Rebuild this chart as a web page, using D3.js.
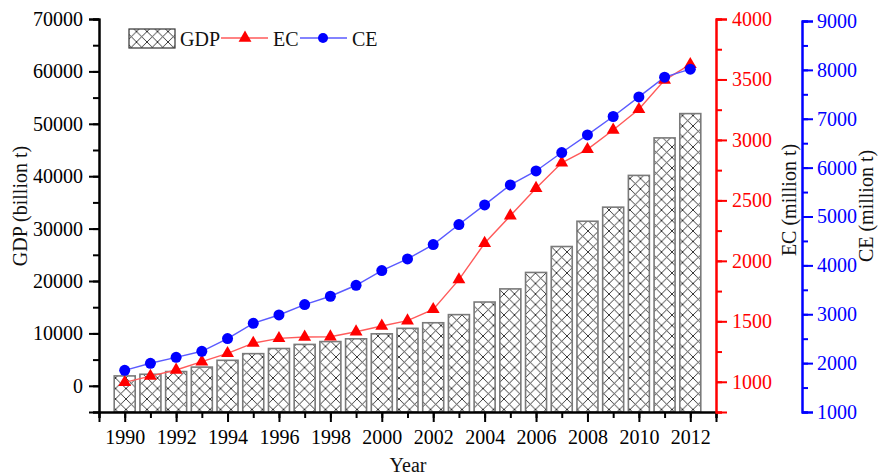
<!DOCTYPE html>
<html><head><meta charset="utf-8">
<script src="https://cdn.jsdelivr.net/npm/d3@7"></script>
<style>body{margin:0;background:#fff}text{font-family:"Liberation Serif","Times New Roman",serif}</style>
</head><body><svg id="c" width="878" height="475"></svg>
<script>
const years = d3.range(1990, 2013);
const gdp = [1887,2201,2719,3567,4864,6134,7118,7897,8440,8968,9921,10966,12033,13582,15988,18494,21631,26581,31405,34090,40151,47310,51947];
const ec = [995,1047,1097,1166,1235,1320,1359,1370,1372,1414,1461,1505,1599,1845,2145,2373,2600,2811,2922,3082,3253,3495,3625];
const ce = [1853,1997,2118,2242,2502,2815,2985,3198,3368,3593,3894,4131,4426,4835,5237,5646,5932,6309,6669,7046,7447,7851,8014];
const gdpTicks = [0,10000,20000,30000,40000,50000,60000,70000];
const ecTicks = [1000,1500,2000,2500,3000,3500,4000];
const ceTicks = [1000,2000,3000,4000,5000,6000,7000,8000,9000];
const yearTicks = d3.range(1990, 2013, 2);

const svg = d3.select("#c");
const L = 99, R = 716, T = 19, B = 412;
const x = d3.scaleLinear().domain([1989, 2013]).range([L, R]);
const yG = d3.scaleLinear().domain([-5000, 70000]).range([B, T]);
const yE = d3.scaleLinear().domain([750, 4000]).range([B, T]);
const yC = d3.scaleLinear().domain([1000, 9000]).range([B, 21]);

const defs = svg.append("defs");
const pat = defs.append("pattern").attr("id","hatch").attr("patternUnits","userSpaceOnUse")
  .attr("width",10.5).attr("height",10.5);
pat.append("rect").attr("width",10.5).attr("height",10.5).attr("fill","#fff");
pat.append("path").attr("d","M0,0L10.5,10.5M10.5,0L0,10.5").attr("stroke","#222").attr("stroke-width",0.9);

// bars
const bw = 21;
svg.append("g").selectAll("rect").data(years).join("rect")
  .attr("x", (d)=>x(d)-bw/2).attr("width", bw)
  .attr("y", (d,i)=>yG(gdp[i])).attr("height", (d,i)=>B - yG(gdp[i]))
  .attr("fill","url(#hatch)").attr("stroke","#7a7a7a").attr("stroke-width",1.6);

// lines
const lineE = d3.line().x((d,i)=>x(years[i])).y(d=>yE(d));
const lineC = d3.line().x((d,i)=>x(years[i])).y(d=>yC(d));
svg.append("path").attr("d", lineE(ec)).attr("fill","none").attr("stroke","#ff5a5a").attr("stroke-width",1.4);
svg.append("path").attr("d", lineC(ce)).attr("fill","none").attr("stroke","#5a5aff").attr("stroke-width",1.4);
const tri = d3.symbol().type(d3.symbolTriangle).size(72);
svg.append("g").selectAll("path").data(ec).join("path")
  .attr("d", tri).attr("transform",(d,i)=>`translate(${x(years[i])},${yE(d)})`).attr("fill","#ff0000");
svg.append("g").selectAll("circle").data(ce).join("circle")
  .attr("cx",(d,i)=>x(years[i])).attr("cy",d=>yC(d)).attr("r",5.5).attr("fill","#0000ff");

function style(g, color){
  g.selectAll("path.domain").attr("stroke",color).attr("stroke-width",2);
  g.selectAll("line").attr("stroke",color).attr("stroke-width",2);
  g.selectAll("text").attr("fill",color).style("font-size","20px").style("font-family",'"Liberation Serif","Times New Roman",serif');
}
// left axis
const gL = svg.append("g").attr("transform",`translate(${L},0)`);
gL.call(d3.axisLeft(yG).tickValues(d3.range(-5000,70001,5000)).tickSize(6).tickFormat("")); style(gL,"#000");
const gL2 = svg.append("g").attr("transform",`translate(${L},0)`);
gL2.call(d3.axisLeft(yG).tickValues(gdpTicks).tickSize(10).tickPadding(6).tickFormat(d3.format("d"))); style(gL2,"#000");
// bottom axis
const gB = svg.append("g").attr("transform",`translate(0,${B})`);
gB.call(d3.axisBottom(x).tickValues(d3.range(1989,2014)).tickSize(6).tickFormat("")); style(gB,"#000");
const gB2 = svg.append("g").attr("transform",`translate(0,${B})`);
gB2.call(d3.axisBottom(x).tickValues(yearTicks).tickSize(10).tickPadding(8).tickFormat(d3.format("d"))); style(gB2,"#000");
// red axis
const gE = svg.append("g").attr("transform",`translate(${R},0)`);
gE.call(d3.axisRight(yE).tickValues(d3.range(750,4001,250)).tickSize(6).tickFormat("")); style(gE,"#ff0000");
const gE2 = svg.append("g").attr("transform",`translate(${R},0)`);
gE2.call(d3.axisRight(yE).tickValues(ecTicks).tickSize(11).tickPadding(5).tickFormat(d3.format("d"))); style(gE2,"#ff0000");
// blue axis
const CX = 802;
const gC = svg.append("g").attr("transform",`translate(${CX},0)`);
gC.call(d3.axisRight(yC).tickValues(d3.range(1000,9001,500)).tickSize(6).tickFormat("")); style(gC,"#0000ff");
const gC2 = svg.append("g").attr("transform",`translate(${CX},0)`);
gC2.call(d3.axisRight(yC).tickValues(ceTicks).tickSize(11).tickPadding(4).tickFormat(d3.format("d"))); style(gC2,"#0000ff");

// titles
const tf = (t)=>t.style("font-size","20px").attr("fill","#111");
tf(svg.append("text").attr("transform","translate(20,206) rotate(-90)").attr("text-anchor","middle").attr("dy","0.35em").text("GDP (billion t)"));
tf(svg.append("text").attr("transform","translate(789,200) rotate(-90)").attr("text-anchor","middle").attr("dy","0.35em").text("EC (million t)"));
tf(svg.append("text").attr("transform","translate(866,206) rotate(-90)").attr("text-anchor","middle").attr("dy","0.35em").text("CE (million t)"));
tf(svg.append("text").attr("x",408).attr("y",472).attr("text-anchor","middle").text("Year"));

// legend
const lg = svg.append("g");
lg.append("rect").attr("x",129).attr("y",29).attr("width",46).attr("height",19).attr("fill","url(#hatch)").attr("stroke","#333").attr("stroke-width",1.2);
tf(lg.append("text").attr("x",180).attr("y",46).text("GDP"));
lg.append("line").attr("x1",221).attr("x2",268).attr("y1",38).attr("y2",38).attr("stroke","#ff5a5a").attr("stroke-width",1.4);
lg.append("path").attr("d",tri).attr("transform","translate(245,38)").attr("fill","#ff0000");
tf(lg.append("text").attr("x",273).attr("y",46).text("EC"));
lg.append("line").attr("x1",300).attr("x2",347).attr("y1",38).attr("y2",38).attr("stroke","#5a5aff").attr("stroke-width",1.4);
lg.append("circle").attr("cx",323).attr("cy",38).attr("r",5).attr("fill","#0000ff");
tf(lg.append("text").attr("x",352).attr("y",46).text("CE"));
</script></body></html>
